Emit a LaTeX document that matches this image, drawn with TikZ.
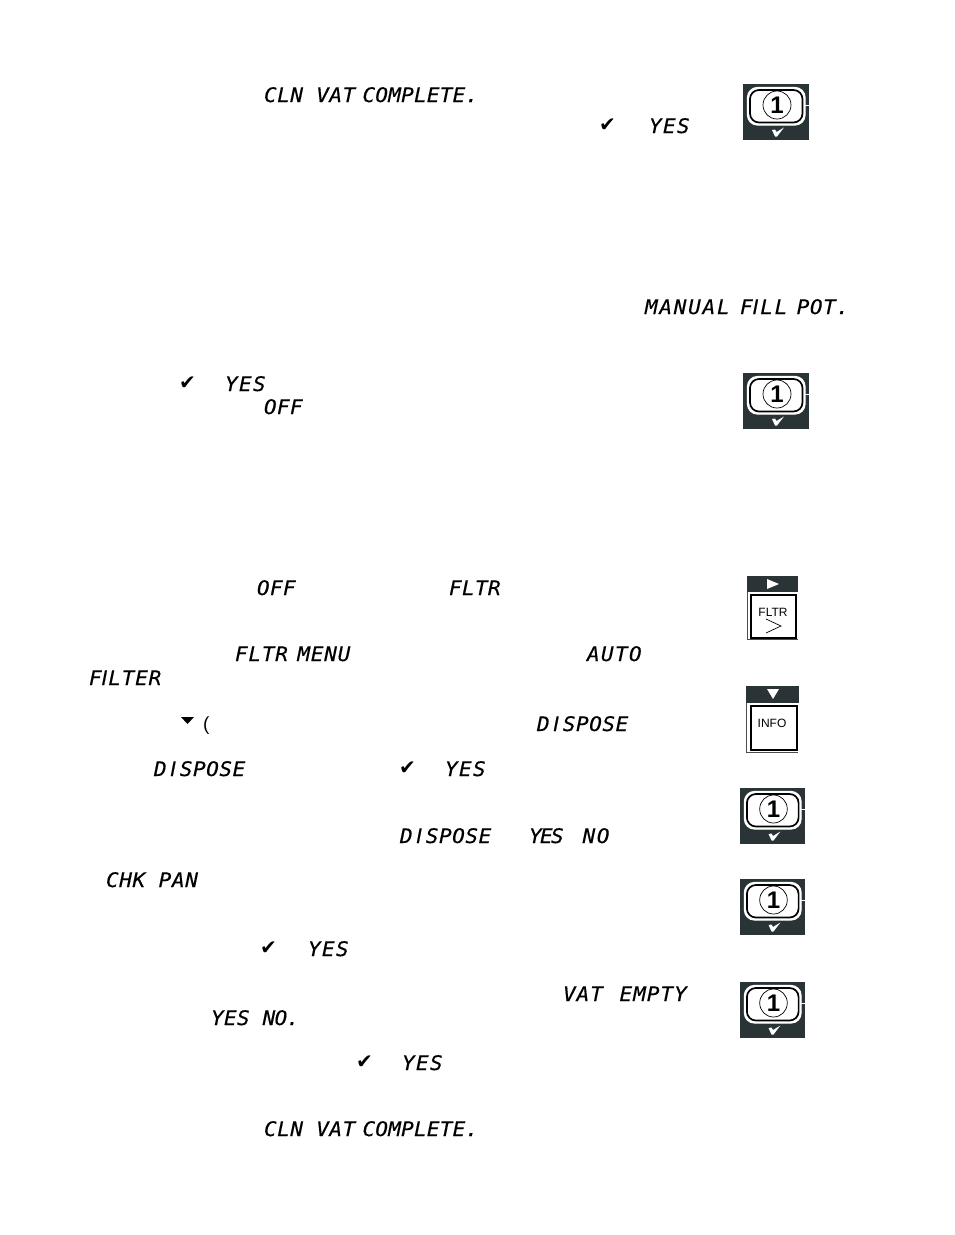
\documentclass[tikz,border=0pt]{standalone}
\usepackage{fontspec}
\setmainfont{Liberation Sans}
\newfontfamily\lcdfont[FakeBold=0.35,FakeStretch=1.05]{DejaVu Sans Mono Oblique}
\newfontfamily\lcdIfont[FakeBold=0.35]{DejaVu Sans Oblique}
\newfontfamily\symfont{DejaVu Sans}
\definecolor{panel}{HTML}{2A3437}
% letter-spaced LCD run: #1 = spacing in percent of the size
\newcommand{\lc}[2]{{\addfontfeature{LetterSpace=#1}#2}}
\newcommand{\nI}{{\lcdIfont\fontsize{20}{20}\selectfont I}}
\newcommand{\wI}{\makebox[13.2pt]{\nI}}
\tikzset{
  lcd/.style={anchor=base west,inner sep=0pt,outer sep=0pt,font=\lcdfont\fontsize{20}{20}\selectfont},
  tick/.style={anchor=base west,inner sep=0pt,outer sep=0pt,font=\symfont\fontsize{20}{20}\selectfont},
  keytext/.style={inner sep=0pt,font=\fontsize{12}{12}\selectfont},
  numkey/.pic={
    \fill[panel] (0,0) rectangle (66,56);
    \draw[white,line width=1pt] (60,21) -- (66,21);
    \draw[white,line width=1.2pt,fill=white,rounded corners=10pt] (4.5,3.5) rectangle (62,41);
    \draw[black,line width=1.7pt,rounded corners=9pt] (7,6) rectangle (59.5,38.5);
    \draw[black,line width=.7pt] (34,21) circle (14);
    \node[inner sep=0pt,font=\bfseries\fontsize{24}{24}\selectfont] at (34,21) {1};
    \fill[white] (29,46) -- (32,45.5) -- (33.5,48) -- (41,43.5) -- (34,52.5) -- (32,52.5) -- cycle;
  }
}
\begin{document}
\begin{tikzpicture}[x=1pt,y=-1pt]
\useasboundingbox (0,0) rectangle (954,1235);
\fill[white] (0,0) rectangle (954,1235);
% LCD texts
\node[lcd] (a1) at (264,102) {\lc{2.8}{CLN VAT\hspace{-6pt} }\lc{1.2}{COMPLETE.}};
\node[tick] (t1) at (599,131) {✔};
\node[lcd] (a2) at (649,133) {\lc{6.8}{YES}};
\node[lcd] (a3) at (645,314) {\lc{8.8}{MANUAL\hspace{-4pt} F\nI\hspace{1.7pt}LL\hspace{-5pt} }\lc{2.8}{POT.}};
\node[tick] (t2) at (179,389) {✔};
\node[lcd] (a4) at (225,391) {\lc{6.8}{YES}};
\node[lcd] (a5) at (264,414) {\lc{1.8}{OFF}};
\node[lcd] (a6) at (257,595) {\lc{1.8}{OFF}};
\node[lcd] (a7) at (449,595) {\lc{1.8}{FLTR}};
\node[lcd] (a8) at (235,661) {\lc{4}{FLTR\hspace{-4pt} MENU}};
\node[lcd] (a9) at (587,661) {\lc{6.8}{AUTO}};
\node[lcd] (a10) at (89,685) {\lc{4}{F\nI\hspace{.8pt}LTER}};
\fill (181,717) -- (194,717) -- (187.5,724) -- cycle;
\node[anchor=base west,inner sep=0pt,font=\fontsize{19}{19}\selectfont] (p1) at (203,730) {(};
\node[lcd] (a11) at (537,731) {\lc{2.8}{D\wI SPOSE}};
\node[lcd] (a12) at (154,776) {\lc{2.8}{D\wI SPOSE}};
\node[tick] (t3) at (399,774) {✔};
\node[lcd] (a13) at (445,776) {\lc{6.8}{YES}};
\node[lcd] (a14) at (400,843) {\lc{2.8}{D\wI SPOSE}};
\node[lcd] (a15) at (529,843) {\lc{-8.2}{YES\hspace{8pt} }\lc{8}{NO}};
\node[lcd] (a16) at (106,887) {\lc{3.5}{CHK PAN}};
\node[tick] (t4) at (260,954) {✔};
\node[lcd] (a17) at (308,956) {\lc{6.8}{YES}};
\node[lcd] (a18) at (563,1001) {\lc{5}{VAT\hspace{3pt} EMPTY}};
\node[lcd] (a19) at (211,1025) {\lc{1.8}{YES }\lc{-3.2}{NO.}};
\node[tick] (t5) at (356,1068) {✔};
\node[lcd] (a20) at (402,1070) {\lc{6.8}{YES}};
\node[lcd] (a21) at (264,1136) {\lc{2.8}{CLN VAT\hspace{-6pt} }\lc{1.2}{COMPLETE.}};
% numbered keys
\pic at (743,84) {numkey};
\pic at (743,373) {numkey};
\pic[xscale=.985] at (740,788) {numkey};
\pic[xscale=.985] at (740,879) {numkey};
\pic[xscale=.985] at (740,982) {numkey};
% FLTR key
\fill[panel] (747,576) rectangle (798,592);
\fill[white] (767,579) -- (779,584) -- (767,589) -- cycle;
\draw[black!70,line width=.8pt] (747.5,592) -- (747.5,639.5) -- (798,639.5);
\draw[black,line width=1.4pt] (751,595) rectangle (796,638);
\node[keytext] (k1) at (773,612) {FLTR};
\draw[black,line width=.7pt] (766,619) -- (781,626) -- (766,633);
% INFO key
\fill[panel] (746,686) rectangle (799,703);
\fill[white] (767,689) -- (779,689) -- (773,699) -- cycle;
\draw[black!70,line width=.8pt] (746.5,703) -- (746.5,752.5) -- (798,752.5);
\draw[black,line width=1.4pt] (751,706) rectangle (797,750);
\node[keytext] (k2) at (772,723) {INFO};
\end{tikzpicture}
\end{document}
